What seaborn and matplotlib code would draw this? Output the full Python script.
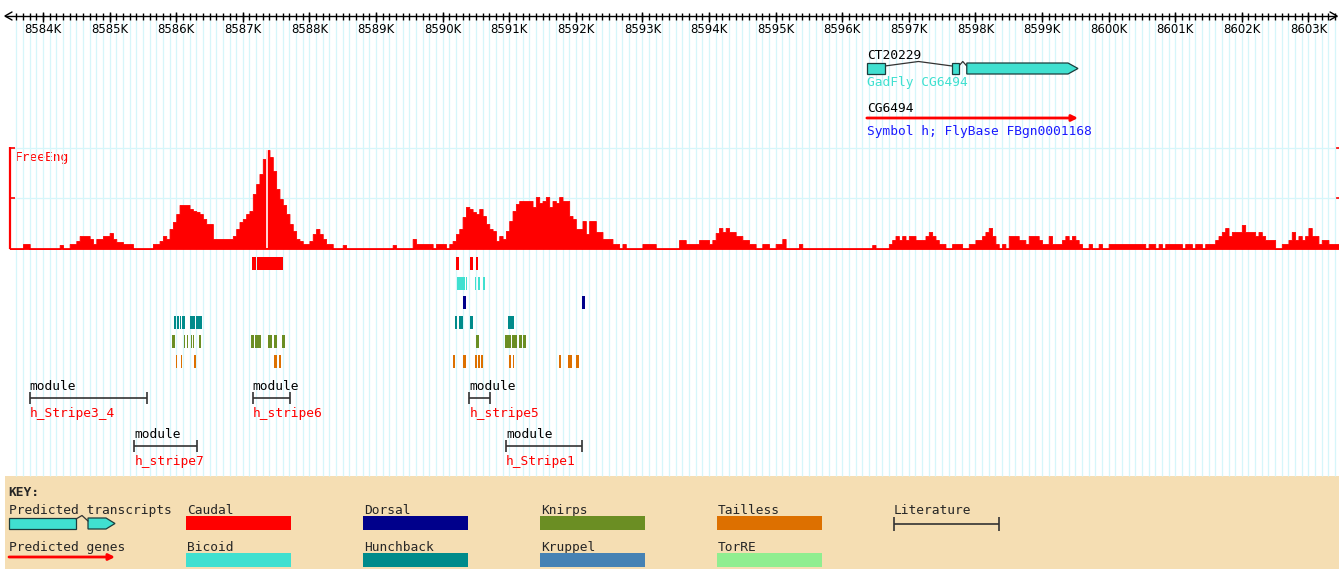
import numpy as np
import pandas as pd
import matplotlib
matplotlib.use('Agg')
import matplotlib.pyplot as plt
from matplotlib.patches import Polygon, Rectangle
import seaborn as sns

sns.set_theme(style='white')
plt.rcParams['font.family'] = ['DejaVu Sans Mono', 'DejaVu Sans']

# 视图范围 (kb)
view_start_kb = 8583.354
view_end_kb = 8603.459

ruler_major_kb = list(range(8584, 8604))
ruler_labels = [f'{k}K' for k in ruler_major_kb]
ruler_minor_step = 0.1

# 基因 / 转录本
transcript_name = 'CT20229'
transcript_exons = [(8596.37, 8596.64), (8597.65, 8597.75), (8597.87, 8599.54)]
gadfly_label = 'GadFly CG6494'
gene_name = 'CG6494'
gene_start_kb, gene_end_kb = 8596.37, 8599.54
gene_symbol = 'Symbol h; FlyBase FBgn0001168'

# FreeEng 曲线, 每 50bp 一个值, 每行 1kb
freeeng_start_kb = 8583.5
freeeng_bin_kb = 0.05
freeeng_values = [
    0, 0, 0, 0, 5, 5, 0, 0, 0, 0, 0, 0, 0, 0, 0, 4, 0, 0, 5, 5,
    8, 13, 13, 13, 10, 5, 10, 10, 13, 13, 16, 10, 7, 7, 5, 5, 5, 0, 0, 0,
    0, 0, 0, 5, 5, 8, 13, 10, 20, 27, 35, 44, 44, 44, 40, 38, 37, 35, 30, 25,
    25, 10, 10, 10, 10, 10, 10, 13, 20, 27, 30, 35, 38, 55, 65, 75, 90, 99, 92, 78,
    60, 50, 44, 35, 25, 18, 10, 8, 5, 5, 8, 15, 20, 15, 10, 5, 5, 0, 0, 0,
    4, 0, 0, 0, 0, 0, 0, 0, 0, 0, 0, 0, 0, 0, 0, 4, 0, 0, 0, 0,
    0, 10, 5, 5, 5, 5, 5, 0, 5, 5, 5, 0, 5, 8, 15, 20, 32, 42, 40, 37,
    35, 40, 33, 25, 20, 18, 8, 13, 10, 18, 28, 38, 45, 48, 48, 48, 48, 42, 52, 46,
    48, 52, 42, 48, 46, 52, 48, 48, 33, 30, 20, 20, 28, 15, 28, 28, 17, 17, 10, 10,
    10, 5, 5, 0, 5, 0, 0, 0, 0, 0, 5, 5, 5, 5, 0, 0, 0, 0, 0, 0,
    0, 9, 9, 5, 5, 5, 5, 9, 9, 9, 5, 9, 16, 21, 17, 21, 17, 17, 13, 13,
    9, 9, 5, 5, 0, 0, 5, 5, 0, 0, 5, 5, 10, 0, 0, 0, 0, 5, 0, 0,
    0, 0, 0, 0, 0, 0, 0, 0, 0, 0, 0, 0, 0, 0, 0, 0, 0, 0, 0, 4,
    0, 0, 0, 0, 5, 9, 13, 9, 13, 9, 13, 13, 9, 9, 9, 13, 17, 13, 9, 5,
    5, 0, 0, 5, 5, 5, 0, 0, 5, 5, 9, 9, 13, 17, 21, 13, 5, 0, 5, 0,
    13, 13, 13, 9, 9, 5, 13, 13, 13, 9, 5, 5, 13, 5, 5, 5, 9, 13, 9, 13,
    9, 5, 0, 0, 5, 0, 0, 5, 0, 0, 5, 5, 5, 5, 5, 5, 5, 5, 5, 5,
    5, 0, 5, 5, 0, 5, 0, 5, 5, 5, 5, 5, 0, 5, 5, 0, 5, 5, 0, 5,
    5, 5, 9, 13, 17, 21, 13, 17, 17, 17, 24, 17, 17, 17, 13, 17, 13, 9, 9, 9,
    0, 0, 5, 5, 9, 17, 9, 13, 9, 13, 21, 13, 13, 5, 9, 9, 5, 5, 5, 5,
]
freeeng_gap_kb = 8587.36

# 转录因子结合位点 (kb)
tf_names = ['Caudal', 'Bicoid', 'Dorsal', 'Hunchback', 'Knirps', 'Kruppel', 'Tailless', 'TorRE']
tf_colors = ['#ff0000', '#40e0d0', '#00008b', '#008b8b', '#6b8e23', '#4682b4', '#dd7000', '#90ee90']
track_order = ['Caudal', 'Bicoid', 'Dorsal', 'Hunchback', 'Knirps', 'Tailless']
sites = {
    'Caudal': [(8587.14, 8587.20), (8587.21, 8587.60), (8590.20, 8590.24), (8590.41, 8590.45),
               (8590.50, 8590.53)],
    'Bicoid': [(8590.22, 8590.33), (8590.35, 8590.37), (8590.48, 8590.50), (8590.53, 8590.56),
               (8590.60, 8590.64)],
    'Dorsal': [(8590.31, 8590.35), (8592.10, 8592.14)],
    'Hunchback': [(8585.97, 8586.00), (8586.01, 8586.04), (8586.05, 8586.07), (8586.09, 8586.13),
                  (8586.21, 8586.28), (8586.30, 8586.39), (8590.19, 8590.21), (8590.25, 8590.30),
                  (8590.41, 8590.45), (8590.98, 8591.02), (8591.03, 8591.07)],
    'Knirps': [(8585.93, 8585.98), (8586.11, 8586.13), (8586.16, 8586.18), (8586.22, 8586.24),
               (8586.25, 8586.27), (8586.34, 8586.37), (8587.13, 8587.17), (8587.19, 8587.28),
               (8587.38, 8587.44), (8587.47, 8587.51), (8587.59, 8587.63), (8590.50, 8590.55),
               (8590.94, 8591.02), (8591.04, 8591.12), (8591.15, 8591.19), (8591.21, 8591.25)],
    'Tailless': [(8585.99, 8586.01), (8586.07, 8586.09), (8586.26, 8586.29), (8587.47, 8587.52),
                 (8587.55, 8587.58), (8590.15, 8590.19), (8590.31, 8590.35), (8590.49, 8590.52),
                 (8590.53, 8590.56), (8590.58, 8590.61), (8591.00, 8591.03), (8591.05, 8591.07),
                 (8591.74, 8591.78), (8591.88, 8591.95), (8592.01, 8592.05)],
}

# 文献模块
module_names = ['h_Stripe3_4', 'h_stripe7', 'h_stripe6', 'h_stripe5', 'h_Stripe1']
module_start = [8583.80, 8585.37, 8587.15, 8590.40, 8590.95]
module_end = [8585.56, 8586.31, 8587.71, 8590.71, 8592.09]

W, H = 1339, 569
FS = 9.3
GRID = '#d6f6fa'
TURQ = '#40e0d0'

fig = plt.figure(figsize=(W / 100, H / 100), dpi=100)
fig.patch.set_facecolor('white')
# 像素坐标 (版面)
ax = fig.add_axes([0, 0, 1, 1])
ax.set_xlim(0, W)
ax.set_ylim(H, 0)
ax.axis('off')
# 基因组坐标 (kb)
ax_g = fig.add_axes([0, 0, 1, 1])
ax_g.set_xlim(view_start_kb, view_end_kb)
ax_g.set_ylim(H, 0)
ax_g.axis('off')
ax_g.patch.set_alpha(0)

# 网格
minor_kb = np.arange(8583.6, view_end_kb - 0.05, ruler_minor_step)
ax_g.vlines(minor_kb, 20, 476, color=GRID, lw=0.9, zorder=0)
ax.hlines([148, 198], 10, W, color=GRID, lw=0.9, zorder=0)

# 标尺
ax.hlines(16, 5, W - 2, color='black', lw=1)
ax.plot([12, 5, 12], [12, 16, 20], color='black', lw=1)
ax.plot([W - 9, W - 2, W - 9], [12, 16, 20], color='black', lw=1)
ax_g.vlines(minor_kb, 12.5, 19.5, color='black', lw=1)
ax_g.vlines(ruler_major_kb, 11.5, 21.5, color='black', lw=1)
for k, lab in zip(ruler_major_kb, ruler_labels):
    ax_g.text(k, 33, lab, ha='center', va='baseline', fontsize=8.5,
              family='DejaVu Sans', color='black')

# 转录本
ex_top, ex_bot, ex_mid = 63, 74, 68.5
head = 0.15
for i, (s, e) in enumerate(transcript_exons):
    if i == len(transcript_exons) - 1:
        pts = [(s, ex_top), (e - head, ex_top), (e, ex_mid), (e - head, ex_bot), (s, ex_bot)]
    else:
        pts = [(s, ex_top), (e, ex_top), (e, ex_bot), (s, ex_bot)]
    ax_g.add_patch(Polygon(pts, closed=True, facecolor=TURQ, edgecolor='#1c3c3c', lw=0.9, zorder=3))
for (s0, e0), (s1, e1) in zip(transcript_exons[:-1], transcript_exons[1:]):
    ax_g.plot([e0, (e0 + s1) / 2, s1], [66, 61.5, 66], color='#333333', lw=0.9, zorder=2)
ax_g.text(transcript_exons[0][0], 58.5, transcript_name, fontsize=FS, va='baseline', color='black')
ax_g.text(transcript_exons[0][0], 86, gadfly_label, fontsize=FS, va='baseline', color=TURQ)

# 基因
ax_g.text(gene_start_kb, 111.5, gene_name, fontsize=FS, va='baseline', color='black')
ax_g.annotate('', xy=(gene_end_kb, 118), xytext=(gene_start_kb, 118),
              arrowprops=dict(arrowstyle='-|>', color='red', lw=2, mutation_scale=9,
                              shrinkA=0, shrinkB=0))
ax_g.text(gene_start_kb, 135, gene_symbol, fontsize=FS, va='baseline', color='#1a1aff')

# FreeEng 轨道
ax_fe = fig.add_axes([0, 1 - 249 / H, 1, 101 / H])
edges = freeeng_start_kb + freeeng_bin_kb * np.arange(len(freeeng_values) + 1)
centers = edges[:-1] + freeeng_bin_kb / 2
fe_df = pd.DataFrame({'pos': centers, 'FreeEng': freeeng_values})
sns.histplot(data=fe_df, x='pos', weights='FreeEng', bins=edges.tolist(), element='step', fill=True,
             color='#ff0000', alpha=1, linewidth=0.6, edgecolor='#ff0000', ax=ax_fe)
ax_fe.vlines(freeeng_gap_kb, 1, 99, color='white', lw=1.2)
ax_fe.hlines(0, freeeng_start_kb, view_end_kb, color='#ff0000', lw=2)
ax_fe.set_xlim(view_start_kb, view_end_kb)
ax_fe.set_ylim(0, 101)
ax_fe.axis('off')
ax_fe.patch.set_alpha(0)

ax.vlines(10, 147, 249, color='#ff0000', lw=1.6)
ax.hlines([148, 198], 10, 15, color='#ff0000', lw=1.2)
ax.hlines([148, 198], W - 4, W, color='#ff0000', lw=1.2)
ax.text(15, 160.5, 'FreeEng', fontsize=FS, va='baseline', color='#ff0000')

# 结合位点
color_of = dict(zip(tf_names, tf_colors))
for i, name in enumerate(track_order):
    y0 = 257 + 19.5 * i
    bars = [(s, e - s) for s, e in sites[name]]
    ax_g.broken_barh(bars, (y0, 13), facecolors=color_of[name], lw=0)

# 模块: 逐行排布
char_kb = 7.8 / 66.6
row_ends = []
module_rows = []
for s, e, n in zip(module_start, module_end, module_names):
    extent = max(e, s + len(n) * char_kb)
    for r, end in enumerate(row_ends):
        if s > end:
            row_ends[r] = extent
            module_rows.append(r)
            break
    else:
        row_ends.append(extent)
        module_rows.append(len(row_ends) - 1)

for s, e, n, r in zip(module_start, module_end, module_names, module_rows):
    y = 398 + 48 * r
    ax_g.hlines(y, s, e, color='#333333', lw=1.2)
    ax_g.vlines([s, e], y - 6, y + 6, color='#333333', lw=1.2)
    ax_g.text(s, y - 8.5, 'module', fontsize=FS, va='baseline', color='black')
    ax_g.text(s, y + 19, n, fontsize=FS, va='baseline', color='#ff0000')

# 图例 KEY
ax.add_patch(Rectangle((5, 476), W - 5, H - 476, facecolor='#f5deb3', edgecolor='none', zorder=1))
ax.text(8, 496, 'KEY:', fontsize=FS, fontweight='bold', va='baseline', zorder=2)
ax.text(9, 514, 'Predicted transcripts', fontsize=FS, va='baseline', zorder=2)
ax.add_patch(Polygon([(9, 518), (76, 518), (76, 529), (9, 529)], closed=True,
                     facecolor=TURQ, edgecolor='#1c3c3c', lw=0.9, zorder=2))
ax.add_patch(Polygon([(88, 518), (106, 518), (115, 523.5), (106, 529), (88, 529)], closed=True,
                     facecolor=TURQ, edgecolor='#1c3c3c', lw=0.9, zorder=2))
ax.plot([76, 82, 88], [519, 515.5, 521], color='#333333', lw=0.9, zorder=2)
ax.text(9, 551, 'Predicted genes', fontsize=FS, va='baseline', zorder=2)
ax.annotate('', xy=(115, 557), xytext=(9, 557), zorder=2,
            arrowprops=dict(arrowstyle='-|>', color='red', lw=2, mutation_scale=9,
                            shrinkA=0, shrinkB=0))
for i, (name, col) in enumerate(zip(tf_names, tf_colors)):
    x0 = 186 + 177 * (i // 2)
    r = i % 2
    ax.text(x0 + 1, 514 + 37 * r, name, fontsize=FS, va='baseline', zorder=2)
    ax.add_patch(Rectangle((x0, 516 + 37 * r), 105, 14, facecolor=col, edgecolor='none', zorder=2))
ax.text(894, 514, 'Literature', fontsize=FS, va='baseline', zorder=2)
ax.hlines(524, 894, 999, color='#333333', lw=1.2, zorder=2)
ax.vlines([894, 999], 517, 531, color='#333333', lw=1.2, zorder=2)

fig.savefig('out.png', dpi=100)
